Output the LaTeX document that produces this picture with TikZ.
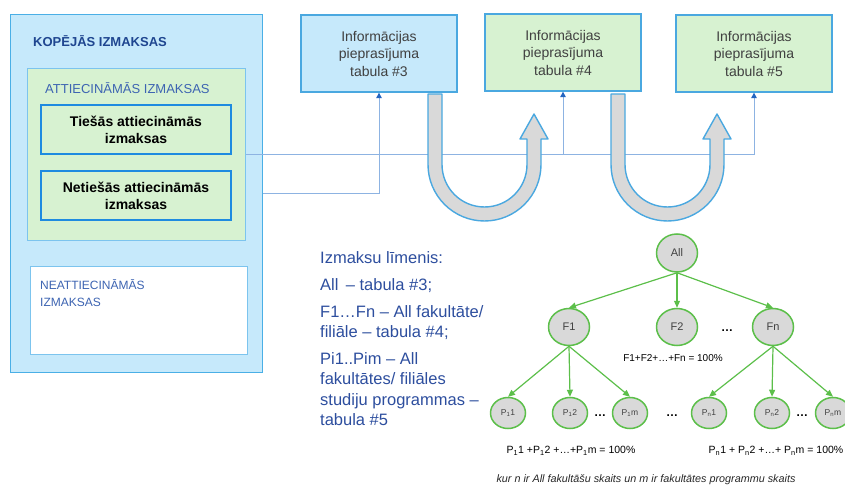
\documentclass[tikz,border=0pt]{standalone}
\usepackage{fontspec}
\setmainfont{Liberation Sans}
\usetikzlibrary{shapes.geometric,arrows.meta}
\definecolor{outerfill}{HTML}{C6E9FB}
\definecolor{outerline}{HTML}{4AAFE6}
\definecolor{greenfill}{HTML}{D7F2D1}
\definecolor{lightline}{HTML}{7CC4EE}
\definecolor{strongline}{HTML}{1E8BE0}
\definecolor{darkblue}{HTML}{1F4690}
\definecolor{medblue}{HTML}{3D64B2}
\definecolor{textblue}{HTML}{2D4E9E}
\definecolor{tabtext}{HTML}{404040}
\definecolor{linkblue}{HTML}{8DB3E2}
\definecolor{tipblue}{HTML}{2465C0}
\definecolor{ugray}{HTML}{D9D9D9}
\definecolor{uline}{HTML}{4AA8E0}
\definecolor{treegreen}{HTML}{5CBF4A}
\definecolor{nodegray}{HTML}{D9D9D9}
\begin{document}
\begin{tikzpicture}[x=1pt,y=-1pt,
  plainbox/.style={draw, rectangle, inner sep=0pt},
  tblbox/.style={draw=uline, line width=1.3pt, rectangle, inner sep=0pt,
     minimum width=156, minimum height=77, align=center, text=tabtext,
     font=\fontsize{14}{17.5}\selectfont},
  costbox/.style={draw=strongline, line width=1.5pt, fill=greenfill, rectangle,
     inner sep=0pt, minimum width=190, minimum height=49, align=center,
     font=\fontsize{14}{17}\selectfont\bfseries},
  lvltext/.style={anchor=base west, inner sep=0pt, text=textblue,
     font=\fontsize{16.5}{20}\selectfont},
  bline/.style={draw=linkblue, line width=1pt,
     -{Triangle[length=5.5pt,width=5.5pt,color=tipblue]}},
  uarrow/.style={fill=ugray, draw=uline, line width=1.4pt, line join=round},
  bigell/.style={ellipse, draw=treegreen, line width=1.5pt, fill=nodegray,
     inner sep=0pt, minimum width=41, minimum height=37,
     font=\fontsize{11}{13}\selectfont, text=tabtext},
  smallell/.style={ellipse, draw=treegreen, line width=1.5pt, fill=nodegray,
     inner sep=0pt, minimum width=35, minimum height=31,
     font=\fontsize{8.5}{10}\selectfont, text=tabtext},
  garrow/.style={draw=treegreen, line width=1.2pt,
     -{Triangle[length=7pt,width=6pt]}},
  dotsnode/.style={inner sep=0pt, font=\fontsize{12}{14}\selectfont\bfseries},
  sumtext/.style={inner sep=0pt, font=\fontsize{10.5}{12}\selectfont, text=black}
]
\useasboundingbox (0,0) rectangle (845,486);

% left nested boxes
\node[plainbox, draw=outerline, line width=1pt, fill=outerfill,
      minimum width=252, minimum height=357] (outer) at (136,193.5) {};
\node[anchor=base west, inner sep=0pt, text=darkblue,
      font=\fontsize{13}{15}\selectfont\bfseries] (kop) at (33,46.7) {KOPĒJĀS IZMAKSAS};
\node[plainbox, draw=lightline, line width=1pt, fill=greenfill,
      minimum width=218, minimum height=172] (attr) at (136,155) {};
\node[anchor=base west, inner sep=0pt, text=medblue,
      font=\fontsize{13}{15}\selectfont] (attrlbl) at (45,93.7) {ATTIECINĀMĀS IZMAKSAS};
\node[costbox] (tie) at (136,129.5) {Tiešās attiecināmās\\izmaksas};
\node[costbox] (net) at (136,195.5) {Netiešās attiecināmās\\izmaksas};
\node[plainbox, draw=lightline, line width=1pt, fill=white,
      minimum width=217, minimum height=88] (neat) at (138.5,310) {};
\node[anchor=base west, inner sep=0pt, text=medblue,
      font=\fontsize{12}{14}\selectfont] (neat1) at (40,289.3) {NEATTIECINĀMĀS};
\node[anchor=base west, inner sep=0pt, text=medblue,
      font=\fontsize{12}{14}\selectfont] (neat2) at (40,306.3) {IZMAKSAS};

% tables
\node[tblbox, fill=outerfill] (t3) at (379,53.5) {Informācijas\\pieprasījuma\\tabula \#3};
\node[tblbox, fill=greenfill] (t4) at (563,52.5) {Informācijas\\pieprasījuma\\tabula \#4};
\node[tblbox, fill=greenfill] (t5) at (754,53.5) {Informācijas\\pieprasījuma\\tabula \#5};

% connectors
\draw[bline] (attr.east) -- (t5.south |- attr.east) -- (t5.south);
\draw[bline] (t4.south |- attr.east) -- (t4.south);
\draw[bline] (outer.east) -| (t3.south);

% U-turn arrows
\draw[uarrow] (428,94) -- (442,94) -- (442,164.5)
  .. controls (442,188) and (461,207) .. (484.5,207)
  .. controls (508,207) and (527,188) .. (527,164.5)
  -- (527,139) -- (520,139) -- (534,114) -- (548,139) -- (541,139) -- (541,164.5)
  .. controls (541,195.7) and (515.7,221) .. (484.5,221)
  .. controls (453.3,221) and (428,195.7) .. (428,164.5) -- cycle;
\begin{scope}[shift={(183,0)}]
\draw[uarrow] (428,94) -- (442,94) -- (442,164.5)
  .. controls (442,188) and (461,207) .. (484.5,207)
  .. controls (508,207) and (527,188) .. (527,164.5)
  -- (527,139) -- (520,139) -- (534,114) -- (548,139) -- (541,139) -- (541,164.5)
  .. controls (541,195.7) and (515.7,221) .. (484.5,221)
  .. controls (453.3,221) and (428,195.7) .. (428,164.5) -- cycle;
\end{scope}

% level text
\node[lvltext] (lv1) at (320,263.5) {Izmaksu līmenis:};
\node[lvltext] (lv2) at (320,290.5) {All \,– tabula \#3;};
\node[lvltext] (lv3) at (320,317.5) {F1…Fn – All fakultāte/};
\node[lvltext] (lv4) at (320,337.5) {filiāle – tabula \#4;};
\node[lvltext] (lv5) at (320,364) {Pi1..Pim – All};
\node[lvltext] (lv6) at (320,384.5) {fakultātes/ filiāles};
\node[lvltext] (lv7) at (320,405) {studiju programmas –};
\node[lvltext] (lv8) at (320,425.5) {tabula \#5};

% tree
\node[bigell, minimum height=38] (all) at (677,253) {All};
\node[bigell] (f1) at (569,327) {F1};
\node[bigell] (f2) at (677,327) {F2};
\node[bigell] (fn) at (773,327) {Fn};
\node[dotsnode] (fdots) at (727,331) {…};
\node[smallell] (p11) at (508,413) {P\textsubscript{1}1};
\node[smallell] (p12) at (570,413) {P\textsubscript{1}2};
\node[smallell] (p1m) at (630,413) {P\textsubscript{1}m};
\node[smallell] (pn1) at (709,413) {P\textsubscript{n}1};
\node[smallell] (pn2) at (772,413) {P\textsubscript{n}2};
\node[smallell] (pnm) at (833,413) {P\textsubscript{n}m};
\node[dotsnode] (pdots1) at (600,416) {…};
\node[dotsnode] (pdots2) at (672,416) {…};
\node[dotsnode] (pdots3) at (802,416) {…};

\draw[garrow] (all.south) -- (f1.north);
\draw[garrow] (all.south) -- (f2.north);
\draw[garrow] (all.south) -- (fn.north);
\draw[garrow] (f1.south) -- (p11.north);
\draw[garrow] (f1.south) -- (p12.north);
\draw[garrow] (f1.south) -- (p1m.north);
\draw[garrow] (fn.south) -- (pn1.north);
\draw[garrow] (fn.south) -- (pn2.north);
\draw[garrow] (fn.south) -- (pnm.north);

\node[sumtext, font=\fontsize{10}{12}\selectfont] (fsum) at (673,358) {F1+F2+…+Fn = 100\%};
\node[sumtext] (p1sum) at (571,451) {P\textsubscript{1}1 +P\textsubscript{1}2 +…+P\textsubscript{1}m = 100\%};
\node[sumtext] (pnsum) at (776,451) {P\textsubscript{n}1 + P\textsubscript{n}2 +…+ P\textsubscript{n}m = 100\%};
\node[inner sep=0pt, text=black!85, font=\fontsize{10.8}{12}\selectfont\itshape] (note) at (646,480)
  {kur n ir All fakultāšu skaits un m ir fakultātes programmu skaits};
\end{tikzpicture}
\end{document}
